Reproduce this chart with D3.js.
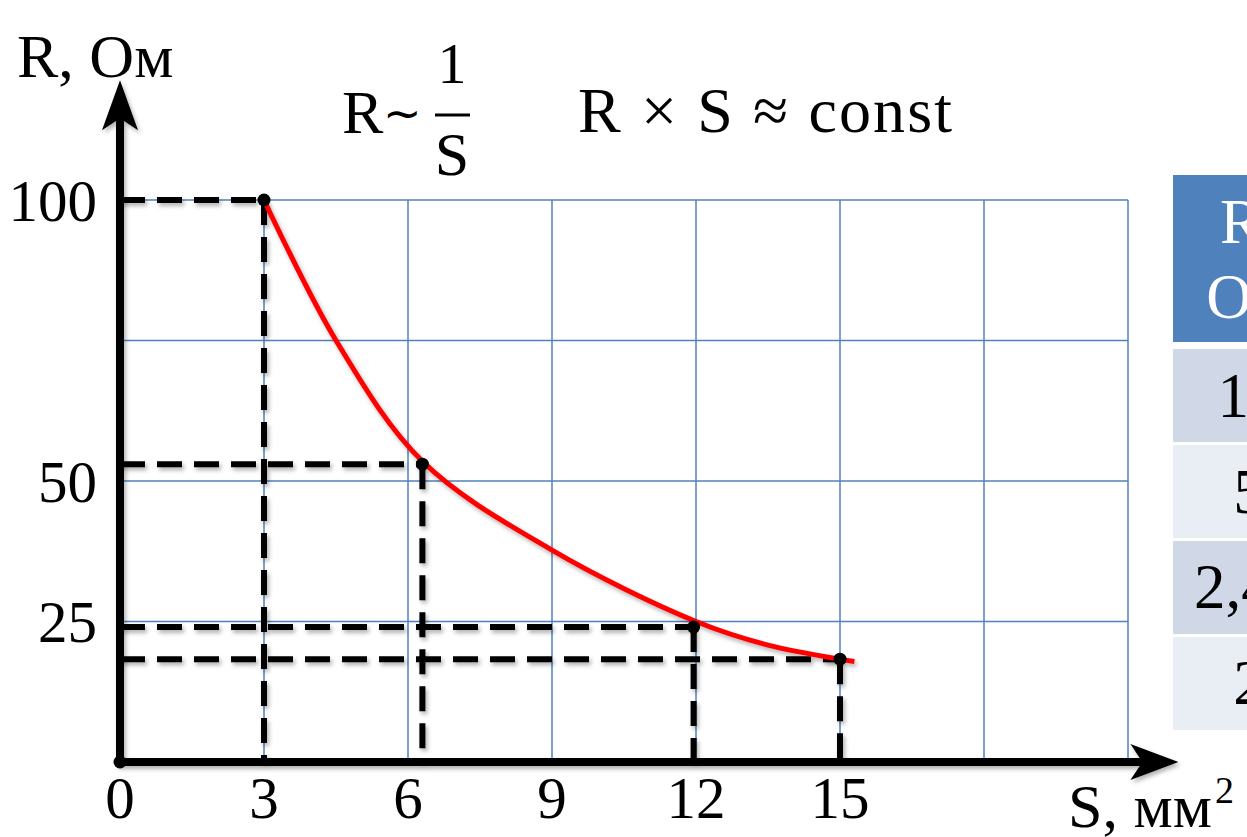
<!DOCTYPE html>
<html>
<head>
<meta http-equiv="Content-Type" content="text/html; charset=UTF-8">
<style>
  body { margin: 0; background: #fff; }
  svg { display: block; }
</style>
</head>
<body>
<svg width="1247" height="837"></svg>
<script src="https://cdn.jsdelivr.net/npm/d3@7/dist/d3.min.js"></script>
<script>

// points marked with dashed guides
var markS = [3, 6.3, 11.95, 15];
var markR = [100, 53, 24, 18.3];

// red curve
var curveS = [3, 4.5, 6.3, 9, 12, 13.5, 15, 15.3];
var curveR = [100, 75, 53.5, 37.7, 25, 20.8, 18.3, 17.9];

var xTicks = [0, 3, 6, 9, 12, 15];
var yTicks = [25, 50, 100];
var gridS = [3, 6, 9, 12, 15, 18, 21];
var gridR = [25, 50, 75, 100];

var tableHead = ["R,", "Ом"];
var tableCells = ["10", "5", "2,45", "2"];

var svg = d3.select("svg"),
    serif = "'Liberation Serif', 'Times New Roman', serif";

var x = d3.scaleLinear().domain([0, 21]).range([120, 1128]),
    y = d3.scaleLinear().domain([0, 100]).range([762, 200]);

var defs = svg.append("defs");
defs.append("filter")
    .attr("id", "shadow")
    .attr("x", "-20%").attr("y", "-20%")
    .attr("width", "140%").attr("height", "140%")
  .append("feDropShadow")
    .attr("dx", 2).attr("dy", 3)
    .attr("stdDeviation", 2)
    .attr("flood-color", "#000")
    .attr("flood-opacity", 0.3);

// grid
var grid = svg.append("g")
    .attr("stroke", "#4f81bd")
    .attr("stroke-width", 1.5);

grid.selectAll(".gv")
    .data(gridS)
  .enter().append("line")
    .attr("x1", function(d) { return x(d); })
    .attr("x2", function(d) { return x(d); })
    .attr("y1", y(100))
    .attr("y2", y(0));

grid.selectAll(".gh")
    .data(gridR)
  .enter().append("line")
    .attr("x1", x(0))
    .attr("x2", x(21))
    .attr("y1", function(d) { return y(d); })
    .attr("y2", function(d) { return y(d); });

var marks = markS.map(function(s, i) { return { s: s, r: markR[i] }; });

// dashed guides
var guides = svg.append("g")
    .attr("stroke", "#000")
    .attr("stroke-width", 6)
    .attr("stroke-dasharray", "25,12")
    .attr("filter", "url(#shadow)");

guides.selectAll(".h")
    .data(marks)
  .enter().append("line")
    .attr("x1", x(0))
    .attr("x2", function(d) { return x(d.s); })
    .attr("y1", function(d) { return y(d.r); })
    .attr("y2", function(d) { return y(d.r); });

guides.selectAll(".v")
    .data(marks)
  .enter().append("line")
    .attr("x1", function(d) { return x(d.s); })
    .attr("x2", function(d) { return x(d.s); })
    .attr("y1", function(d) { return y(d.r); })
    .attr("y2", y(0));

// curve
var line = d3.line()
    .x(function(d, i) { return x(curveS[i]); })
    .y(function(d) { return y(d); })
    .curve(d3.curveCatmullRom.alpha(0.5));

svg.append("path")
    .attr("d", line(curveR))
    .attr("fill", "none")
    .attr("stroke", "#ff0000")
    .attr("stroke-width", 5)
    .attr("filter", "url(#shadow)");

svg.selectAll(".dot")
    .data(marks.concat([{ s: 0, r: 0 }]))
  .enter().append("circle")
    .attr("cx", function(d) { return x(d.s); })
    .attr("cy", function(d) { return y(d.r); })
    .attr("r", 6.5)
    .attr("fill", "#000");

// axes with arrows
var axes = svg.append("g").attr("filter", "url(#shadow)");
var xEnd = x(22.05), yEnd = y(121.3);

axes.append("line")
    .attr("x1", x(0) - 4).attr("x2", xEnd - 30)
    .attr("y1", y(0)).attr("y2", y(0))
    .attr("stroke", "#000").attr("stroke-width", 8);

axes.append("line")
    .attr("x1", x(0)).attr("x2", x(0))
    .attr("y1", y(0) + 4).attr("y2", yEnd + 30)
    .attr("stroke", "#000").attr("stroke-width", 8);

axes.append("path")
    .attr("d", "M" + xEnd + "," + y(0) +
               "L" + (xEnd - 48) + "," + (y(0) - 18) +
               "L" + (xEnd - 36) + "," + y(0) +
               "L" + (xEnd - 48) + "," + (y(0) + 18) + "Z")
    .attr("fill", "#000");

axes.append("path")
    .attr("d", "M" + x(0) + "," + yEnd +
               "L" + (x(0) - 18) + "," + (yEnd + 50) +
               "L" + x(0) + "," + (yEnd + 38) +
               "L" + (x(0) + 18) + "," + (yEnd + 50) + "Z")
    .attr("fill", "#000");

// tick labels
svg.selectAll(".xt")
    .data(xTicks)
  .enter().append("text")
    .attr("x", function(d) { return x(d); })
    .attr("y", 818)
    .attr("text-anchor", "middle")
    .style("font", "59px " + serif)
    .text(function(d) { return d; });

svg.selectAll(".yt")
    .data(yTicks)
  .enter().append("text")
    .attr("x", 97)
    .attr("y", function(d) { return y(d); })
    .attr("dy", "0.35em")
    .attr("text-anchor", "end")
    .style("font", "59px " + serif)
    .text(function(d) { return d; });

// axis titles
svg.append("text")
    .attr("x", 17).attr("y", 77)
    .style("font", "62px " + serif)
    .text("R, Ом");

var sLab = svg.append("text")
    .attr("x", 1068).attr("y", 827)
    .style("font", "62px " + serif)
    .text("S, мм");
sLab.append("tspan")
    .attr("dy", -24)
    .attr("dx", 3)
    .style("font-size", "38px")
    .text("2");

// formulas
var rs = svg.append("text")
    .attr("x", 342).attr("y", 133)
    .style("font", "62px " + serif)
    .text("R");
rs.append("tspan")
    .attr("dy", -4)
    .style("font-size", "46px")
    .text("∼");

svg.append("text")
    .attr("x", 452).attr("y", 83)
    .attr("text-anchor", "middle")
    .style("font", "58px " + serif)
    .text("1");

svg.append("line")
    .attr("x1", 435).attr("x2", 470)
    .attr("y1", 115).attr("y2", 115)
    .attr("stroke", "#000").attr("stroke-width", 3);

svg.append("text")
    .attr("x", 452).attr("y", 175)
    .attr("text-anchor", "middle")
    .style("font", "62px " + serif)
    .text("S");

svg.append("text")
    .attr("x", 578).attr("y", 132)
    .attr("textLength", 374)
    .attr("lengthAdjust", "spacing")
    .style("font", "64px " + serif)
    .text("R × S ≈ const");

// table (cut by the right edge)
var tx = 1173, tw = 160, tc = 1249;

svg.append("rect")
    .attr("x", tx).attr("y", 175)
    .attr("width", tw).attr("height", 167)
    .attr("fill", "#4f81bd");

svg.selectAll(".th")
    .data(tableHead)
  .enter().append("text")
    .attr("x", tc)
    .attr("y", function(d, i) { return 243 + i * 75; })
    .attr("text-anchor", "middle")
    .attr("fill", "#fff")
    .style("font", "63px " + serif)
    .text(function(d) { return d; });

var rowY = d3.scaleBand()
    .domain(d3.range(tableCells.length))
    .range([349, 730])
    .paddingInner(0.03);

svg.selectAll(".tr")
    .data(tableCells)
  .enter().append("rect")
    .attr("x", tx)
    .attr("y", function(d, i) { return rowY(i); })
    .attr("width", tw)
    .attr("height", rowY.bandwidth())
    .attr("fill", function(d, i) { return i % 2 ? "#e9edf4" : "#d0d8e8"; });

svg.selectAll(".td")
    .data(tableCells)
  .enter().append("text")
    .attr("x", tc)
    .attr("y", function(d, i) { return rowY(i) + rowY.bandwidth() / 2 + 21; })
    .attr("text-anchor", "middle")
    .style("font", "63px " + serif)
    .text(function(d) { return d; });

</script>
</body>
</html>
